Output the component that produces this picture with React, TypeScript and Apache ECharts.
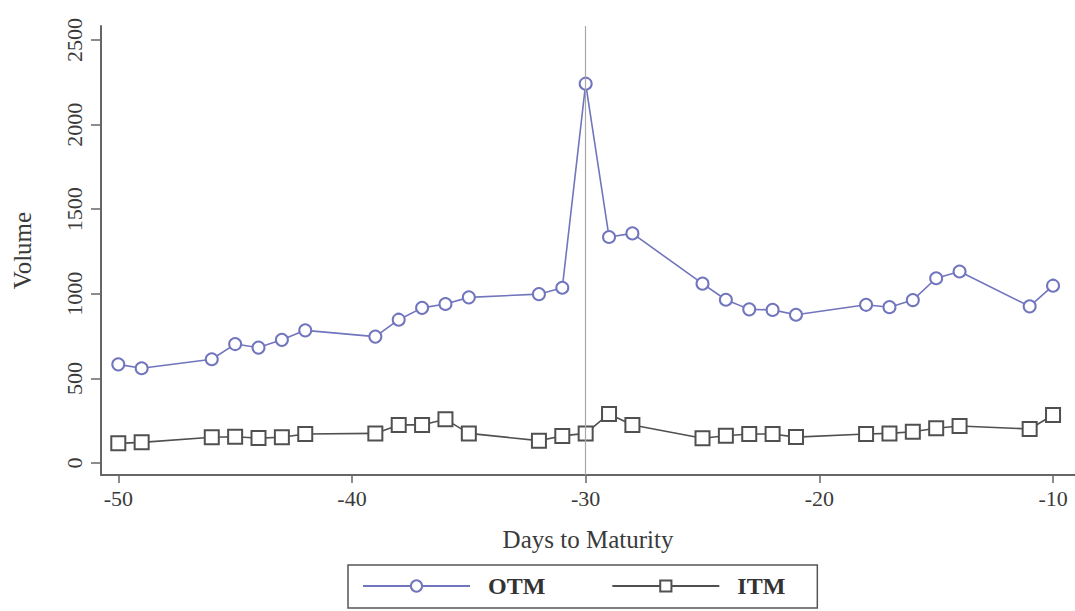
import React, { useEffect, useRef } from "react";
import * as echarts from "echarts";

const days = [-50, -49, -46, -45, -44, -43, -42, -39, -38, -37, -36, -35, -32, -31, -30, -29, -28, -25, -24, -23, -22, -21, -18, -17, -16, -15, -14, -11, -10];
const otm = [583, 560, 613, 703, 682, 728, 784, 747, 847, 917, 940, 979, 998, 1036, 2242, 1336, 1357, 1060, 965, 908, 905, 876, 935, 921, 963, 1092, 1132, 926, 1048];
const itm = [116, 122, 152, 155, 147, 152, 171, 175, 225, 225, 258, 175, 132, 160, 175, 290, 225, 146, 161, 171, 171, 153, 171, 175, 185, 205, 219, 201, 284];
const xTicks = [-50, -40, -30, -20, -10];
const yTicks = [0, 500, 1000, 1500, 2000, 2500];
const eventDay = -30;

const FONT = "Liberation Serif";
const OTM_COLOR = "#7175bd";
const ITM_COLOR = "#505050";
const AXIS_COLOR = "#666666";
const TEXT_COLOR = "#3a3a3a";

export default function App() {
  const ref = useRef<HTMLDivElement>(null);
  useEffect(() => {
    if (!ref.current) return;
    const chart = echarts.init(ref.current, undefined, { renderer: "svg" });
    const pair = (ys: number[]) => days.map((d, i) => [d, ys[i]]);
    chart.setOption({
      animation: false,
      backgroundColor: "#ffffff",
      textStyle: { fontFamily: FONT },
      grid: { left: 101, right: 0, top: 26, bottom: 136, containLabel: false },
      xAxis: {
        type: "value",
        min: -50.74,
        max: -9.06,
        name: "Days to Maturity",
        nameLocation: "middle",
        nameGap: 52,
        nameTextStyle: { fontFamily: FONT, fontSize: 25, color: TEXT_COLOR },
        axisLine: { show: true, onZero: false, lineStyle: { color: AXIS_COLOR, width: 2 } },
        axisTick: { show: true, customValues: xTicks, length: 8, lineStyle: { color: AXIS_COLOR, width: 1.5 } },
        axisLabel: {
          customValues: xTicks,
          margin: 12,
          fontFamily: FONT,
          fontSize: 22,
          color: TEXT_COLOR,
          formatter: (v: number) => String(v),
        },
        splitLine: { show: false },
      },
      yAxis: {
        type: "value",
        min: -71,
        max: 2583,
        name: "Volume",
        nameLocation: "middle",
        nameGap: 66,
        nameRotate: 90,
        nameTextStyle: { fontFamily: FONT, fontSize: 25, color: TEXT_COLOR },
        axisLine: { show: true, onZero: false, lineStyle: { color: AXIS_COLOR, width: 2 } },
        axisTick: { show: true, customValues: yTicks, length: 10, lineStyle: { color: AXIS_COLOR, width: 1.5 } },
        axisLabel: {
          customValues: yTicks,
          rotate: 90,
          margin: 16,
          fontFamily: FONT,
          fontSize: 22,
          color: TEXT_COLOR,
          formatter: (v: number) => String(v),
        },
        splitLine: { show: false },
      },
      legend: {
        left: 348,
        top: 565,
        orient: "horizontal",
        itemWidth: 107,
        itemHeight: 14,
        itemGap: 66,
        padding: [9, 32, 10, 14],
        borderColor: "#555555",
        borderWidth: 1.5,
        textStyle: { fontFamily: FONT, fontSize: 24, fontWeight: "bold", color: "#333333", padding: [0, 0, 0, 13] },
        data: ["OTM", "ITM"],
      },
      series: [
        {
          name: "OTM",
          type: "line",
          data: pair(otm),
          symbol: "emptyCircle",
          symbolSize: 12,
          lineStyle: { color: OTM_COLOR, width: 1.6 },
          itemStyle: { color: OTM_COLOR, borderWidth: 1.6 },
          z: 3,
          markLine: {
            silent: true,
            symbol: ["none", "none"],
            label: { show: false },
            lineStyle: { color: "#a8a8a8", width: 1.2, type: "solid" },
            data: [{ xAxis: eventDay }],
          },
        },
        {
          name: "ITM",
          type: "line",
          data: pair(itm),
          symbol: "emptyRect",
          symbolSize: 14,
          lineStyle: { color: ITM_COLOR, width: 1.6 },
          itemStyle: { color: ITM_COLOR, borderWidth: 1.6 },
          z: 3,
        },
      ],
    });
    return () => chart.dispose();
  }, []);
  return (
    <div
      ref={ref}
      style={{ position: "absolute", left: 0, top: 0, width: 1075, height: 611, background: "#fff" }}
    />
  );
}
